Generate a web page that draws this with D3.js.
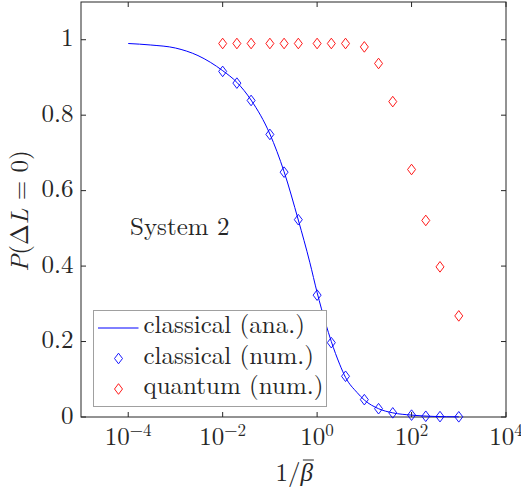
<!DOCTYPE html>
<html>
<head>
<meta charset="utf-8">
<script src="https://cdn.jsdelivr.net/npm/d3@7"></script>
<style>
  body { margin: 0; background: #fff; }
</style>
</head>
<body>
<div id="chart"></div>
<script>
// ---------------- data ----------------
var betaInv = [0.01, 0.02, 0.04, 0.1, 0.2, 0.4, 1, 2, 4, 10, 20, 40, 100, 200, 400, 1000];
var classicalNum = [0.916, 0.885, 0.839, 0.749, 0.649, 0.523, 0.323, 0.197, 0.108, 0.046, 0.022, 0.011, 0.005, 0.002, 0.001, 0.0005];
var quantumNum = [0.990, 0.990, 0.990, 0.990, 0.990, 0.990, 0.990, 0.990, 0.990, 0.981, 0.937, 0.836, 0.656, 0.521, 0.398, 0.268];

// analytic curve
var anaX = [1e-4, 3e-4, 1e-3, 3e-3, 0.01, 0.02, 0.04, 0.1, 0.2, 0.4, 0.7, 1, 1.5, 2, 3, 4, 7, 10, 20, 40, 100, 300, 1000];
var anaY = [0.990, 0.986, 0.978, 0.958, 0.918, 0.887, 0.840, 0.750, 0.650, 0.522, 0.410, 0.330, 0.250, 0.200, 0.140, 0.105, 0.065, 0.045, 0.022, 0.011, 0.005, 0.0015, 0.0005];

var xTickExp = [-4, -2, 0, 2, 4];
var yTicks = [0, 0.2, 0.4, 0.6, 0.8, 1];
var legendLabels = ['classical (ana.)', 'classical (num.)', 'quantum (num.)'];

// ---------------- settings ----------------
var attrs = {
    svgWidth: 521,
    svgHeight: 489,
    marginLeft: 81,
    marginRight: 15,
    marginTop: 2,
    marginBottom: 72,
    axisColor: '#262626',
    font: "'Latin Modern Roman', 'Liberation Serif', serif",
    fontSize: 25,
    blue: '#0000ff',
    red: '#ff0000'
};

var calc = {};
calc.chartWidth = attrs.svgWidth - attrs.marginLeft - attrs.marginRight;
calc.chartHeight = attrs.svgHeight - attrs.marginTop - attrs.marginBottom;

var x = d3.scaleLog().domain([1e-5, 1e4]).range([0, calc.chartWidth]);
var y = d3.scaleLinear().domain([0, 1.1]).range([calc.chartHeight, 0]);

var svg = d3.select('#chart').append('svg')
    .attr('width', attrs.svgWidth)
    .attr('height', attrs.svgHeight)
    .style('font-family', attrs.font)
    .style('fill', attrs.axisColor);

var chart = svg.append('g')
    .attr('transform', 'translate(' + attrs.marginLeft + ',' + attrs.marginTop + ')');

// diamond marker (MATLAB style, a bit taller than wide)
function diamond(w, h) {
    return 'M0,' + (-h) + 'L' + w + ',0L0,' + h + 'L' + (-w) + ',0Z';
}

//################ axes box and ticks ################
var tickLen = 5;
var xTickVals = xTickExp.map(e => Math.pow(10, e));

chart.selectAll('line.xb').data(xTickVals).enter().append('line')
    .attr('x1', d => x(d)).attr('x2', d => x(d))
    .attr('y1', calc.chartHeight).attr('y2', calc.chartHeight - tickLen)
    .attr('stroke', attrs.axisColor);
chart.selectAll('line.xt').data(xTickVals).enter().append('line')
    .attr('x1', d => x(d)).attr('x2', d => x(d))
    .attr('y1', 0).attr('y2', tickLen)
    .attr('stroke', attrs.axisColor);
chart.selectAll('line.yl').data(yTicks).enter().append('line')
    .attr('x1', 0).attr('x2', tickLen)
    .attr('y1', d => y(d)).attr('y2', d => y(d))
    .attr('stroke', attrs.axisColor);
chart.selectAll('line.yr').data(yTicks).enter().append('line')
    .attr('x1', calc.chartWidth).attr('x2', calc.chartWidth - tickLen)
    .attr('y1', d => y(d)).attr('y2', d => y(d))
    .attr('stroke', attrs.axisColor);

chart.append('rect')
    .attr('x', 0).attr('y', 0)
    .attr('width', calc.chartWidth).attr('height', calc.chartHeight)
    .attr('fill', 'none')
    .attr('stroke', attrs.axisColor)
    .attr('stroke-width', 1);

// tick labels
var xLab = chart.selectAll('text.xlab').data(xTickExp).enter().append('text')
    .attr('class', 'xlab')
    .attr('x', d => x(Math.pow(10, d)))
    .attr('y', calc.chartHeight + 28)
    .attr('text-anchor', 'middle')
    .attr('font-size', attrs.fontSize);
xLab.append('tspan').text('10');
xLab.append('tspan')
    .attr('font-size', 17)
    .attr('dy', -9)
    .text(d => d < 0 ? '\u2212' + (-d) : d);

chart.selectAll('text.ylab').data(yTicks).enter().append('text')
    .attr('x', -7.5)
    .attr('y', d => y(d) + 6.5)
    .attr('text-anchor', 'end')
    .attr('font-size', attrs.fontSize)
    .text(d => d);

//################ series ################
var line = d3.line()
    .x((d, i) => x(anaX[i]))
    .y(d => y(d))
    .curve(d3.curveMonotoneX);

chart.append('path')
    .datum(anaY)
    .attr('d', line)
    .attr('fill', 'none')
    .attr('stroke', attrs.blue)
    .attr('stroke-width', 1);

chart.selectAll('path.cnum').data(classicalNum).enter().append('path')
    .attr('class', 'cnum')
    .attr('transform', (d, i) => 'translate(' + x(betaInv[i]) + ',' + y(d) + ')')
    .attr('d', diamond(4, 5.3))
    .attr('fill', 'none')
    .attr('stroke', attrs.blue)
    .attr('stroke-width', 0.9);

chart.selectAll('path.qnum').data(quantumNum).enter().append('path')
    .attr('class', 'qnum')
    .attr('transform', (d, i) => 'translate(' + x(betaInv[i]) + ',' + y(d) + ')')
    .attr('d', diamond(4, 5.3))
    .attr('fill', 'none')
    .attr('stroke', attrs.red)
    .attr('stroke-width', 0.9);

// annotation
chart.append('text')
    .attr('x', 49)
    .attr('y', 233)
    .attr('font-size', attrs.fontSize)
    .text('System 2');

//################ legend ################
var legend = chart.append('g').attr('transform', 'translate(12.5,308.5)');
legend.append('rect')
    .attr('width', 233).attr('height', 96)
    .attr('fill', '#fff')
    .attr('stroke', '#a0a0a0')
    .attr('stroke-width', 1);

var rows = legend.selectAll('g.row').data(legendLabels).enter().append('g')
    .attr('transform', (d, i) => 'translate(0,' + (17.5 + i * 30.5) + ')');
rows.append('text')
    .attr('x', 50)
    .attr('y', 5)
    .attr('font-size', attrs.fontSize)
    .text(d => d);
rows.filter((d, i) => i === 0).append('line')
    .attr('x1', 4.5).attr('x2', 45)
    .attr('stroke', attrs.blue).attr('stroke-width', 1);
rows.filter((d, i) => i > 0).append('path')
    .attr('transform', 'translate(25,0)')
    .attr('d', diamond(4, 5.3))
    .attr('fill', 'none')
    .attr('stroke', (d, i) => i === 0 ? attrs.blue : attrs.red)
    .attr('stroke-width', 0.9);

//################ axis titles ################
var xt = svg.append('text')
    .attr('x', attrs.marginLeft + x(1) - 23)
    .attr('y', 481)
    .attr('text-anchor', 'middle')
    .attr('font-size', attrs.fontSize);
xt.append('tspan').text('1/');
var beta = xt.append('tspan').attr('font-style', 'italic').text('\u03b2');
// bar over beta
var bw = beta.node().getComputedTextLength();
var start = xt.node().getStartPositionOfChar(2);
svg.append('line')
    .attr('x1', start.x + 2.5).attr('x2', start.x + bw + 1)
    .attr('y1', 460).attr('y2', 460)
    .attr('stroke', attrs.axisColor).attr('stroke-width', 1);

var yt = svg.append('text')
    .attr('transform', 'translate(28,211) rotate(-90)')
    .attr('text-anchor', 'middle')
    .attr('font-size', attrs.fontSize);
yt.append('tspan').attr('font-style', 'italic').text('P');
yt.append('tspan').text('(\u0394');
yt.append('tspan').attr('font-style', 'italic').text('L');
yt.append('tspan').text(' = 0)');
</script>
</body>
</html>
